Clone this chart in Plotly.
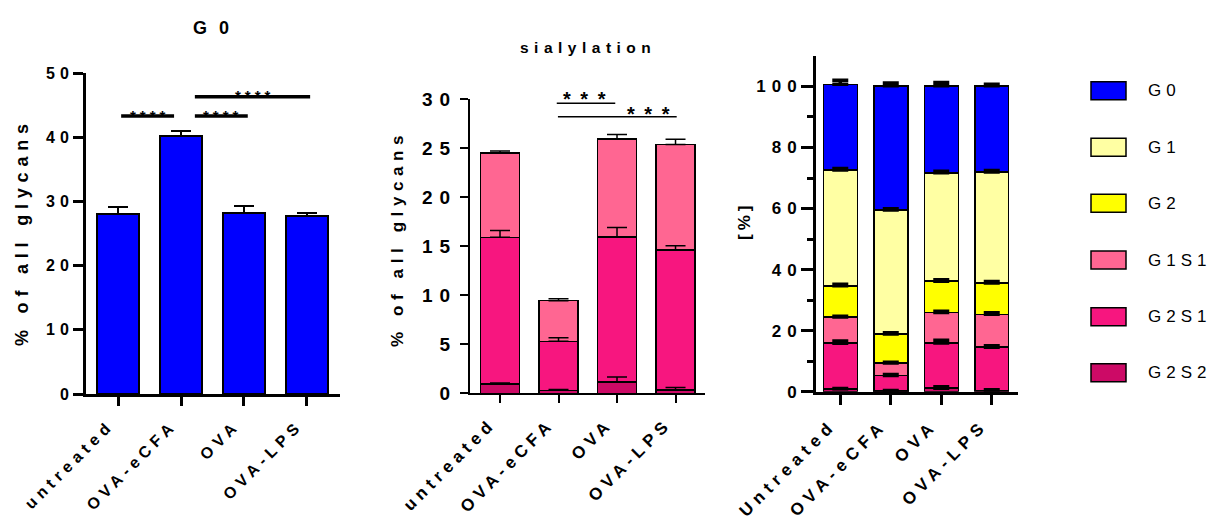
import numpy as np
import plotly.graph_objects as go

# ---- data -------------------------------------------------------------
groups = ["untreated", "OVA-eCFA", "OVA", "OVA-LPS"]
groups_right = ["Untreated", "OVA-eCFA", "OVA", "OVA-LPS"]

# G0 share of all glycans
g0_mean = [28.0, 40.2, 28.2, 27.8]
g0_err = [1.1, 0.8, 1.1, 0.4]

# sialylated species (% of all glycans)
g2s2 = [0.95, 0.3, 1.15, 0.34]
g2s2_err = [0.1, 0.1, 0.5, 0.26]
g2s1 = [14.95, 5.0, 14.8, 14.26]
g2s1_err = [0.7, 0.37, 0.94, 0.45]
g1s1 = [8.6, 4.14, 9.99, 10.75]
g1s1_err = [0.2, 0.2, 0.45, 0.55]

# neutral species for the composition panel (%)
g2 = [10.2, 9.46, 10.26, 10.25]
g2_err = [0.5, 0.4, 0.5, 0.5]
g1 = [37.9, 40.6, 35.5, 36.4]
g1_err = [0.5, 0.4, 0.5, 0.5]
g0_pct = [28.1, 40.7, 28.5, 28.2]
g0_pct_err = [1.3, 0.9, 1.1, 0.5]

series_names = ["G0", "G1", "G2", "G1S1", "G2S1", "G2S2"]
colors = {
    "G0": "#0000FF",
    "G1": "#FFFFA3",
    "G2": "#FFFF00",
    "G1S1": "#FF6692",
    "G2S1": "#F7167F",
    "G2S2": "#CC0A66",
}

left_ticks = [0, 10, 20, 30, 40, 50]
mid_ticks = [0, 5, 10, 15, 20, 25, 30]
right_ticks = [0, 20, 40, 60, 80, 100]

FONT = "Liberation Sans, Arial, sans-serif"
W, H = 1215, 525


def spaced(text, px):
    # letter-spaced text without trailing space after the last glyph
    if len(text) < 2:
        return text
    return f'<span style="letter-spacing:{px}px">{text[:-1]}</span>{text[-1]}'


def slanted(text, px, trail):
    # letter-spaced category label with a small tail of blank space,
    # which pulls the rotated label back from its tick
    return (f'<span style="letter-spacing:{px}px">{text}</span>'
            f'<span style="letter-spacing:{trail}px">\u00a0</span>')


def px_x(v):
    return v / W


def px_y(v):
    return 1 - v / H


fig = go.Figure()

# ---- panel 1: G0 --------------------------------------------------------
fig.add_trace(go.Bar(
    x=groups, y=g0_mean, xaxis="x", yaxis="y", width=0.667,
    marker=dict(color=colors["G0"], line=dict(color="black", width=2)),
    error_y=dict(type="data", symmetric=False, array=g0_err,
                 arrayminus=[0] * len(g0_err), color="black",
                 thickness=2, width=10),
    showlegend=False, hoverinfo="skip",
))

# ---- panel 2: sialylation (stacked) ------------------------------------
mid_stack = [("G2S2", g2s2, g2s2_err), ("G2S1", g2s1, g2s1_err),
             ("G1S1", g1s1, g1s1_err)]
for name, vals, _ in mid_stack:
    fig.add_trace(go.Bar(
        x=groups, y=vals, xaxis="x2", yaxis="y2", width=0.667, name=name,
        marker=dict(color=colors[name], line=dict(color="black", width=1.5)),
        showlegend=False, hoverinfo="skip",
    ))
tops = np.cumsum([v for _, v, _ in mid_stack], axis=0)
for (name, _, err), top in zip(mid_stack, tops):
    fig.add_trace(go.Scatter(
        x=groups, y=top, xaxis="x2", yaxis="y2", mode="markers",
        marker=dict(size=1, opacity=0),
        error_y=dict(type="data", symmetric=False, array=err,
                     arrayminus=[0] * len(err), color="black",
                     thickness=1.5, width=10),
        showlegend=False, hoverinfo="skip",
    ))

# ---- panel 3: composition (stacked %) ----------------------------------
right_stack = [("G2S2", g2s2, g2s2_err), ("G2S1", g2s1, g2s1_err),
               ("G1S1", g1s1, g1s1_err), ("G2", g2, g2_err),
               ("G1", g1, g1_err), ("G0", g0_pct, g0_pct_err)]
for name, vals, _ in right_stack:
    fig.add_trace(go.Bar(
        x=groups_right, y=vals, xaxis="x3", yaxis="y3", width=0.673,
        name=name,
        marker=dict(color=colors[name], line=dict(color="black", width=1.5)),
        showlegend=False, hoverinfo="skip",
    ))
tops_r = np.cumsum([v for _, v, _ in right_stack], axis=0)
for (name, _, err), top in zip(right_stack, tops_r):
    fig.add_trace(go.Scatter(
        x=groups_right, y=top, xaxis="x3", yaxis="y3", mode="markers",
        marker=dict(size=1, opacity=0),
        error_y=dict(type="data", symmetric=False, array=err,
                     arrayminus=[0] * len(err), color="black",
                     thickness=3.5, width=8),
        showlegend=False, hoverinfo="skip",
    ))

# ---- axes ---------------------------------------------------------------
def xaxis_cfg(dom, rng, labels, anchor, lw, tl, size, spacing, standoff):
    return dict(
        domain=dom, anchor=anchor, type="category", range=rng,
        automargin=False,
        showline=True, linecolor="black", linewidth=lw, showgrid=False,
        zeroline=False, ticks="outside", ticklen=tl, tickwidth=lw,
        tickcolor="black", tickangle=-45, ticklabelstandoff=standoff,
        tickvals=labels, ticktext=[slanted(l, spacing, 8) for l in labels],
        tickfont=dict(family=FONT, size=size, color="black", weight="bold"),
    )


def yaxis_cfg(dom, rng, tv, anchor, lw, tl, size, spacing, standoff):
    return dict(
        domain=dom, anchor=anchor, range=rng, showline=True,
        automargin=False,
        linecolor="black", linewidth=lw, showgrid=False, zeroline=False,
        ticks="outside", ticklen=tl, tickwidth=lw, tickcolor="black",
        ticklabelstandoff=standoff,
        tickvals=tv, ticktext=[spaced(str(t), spacing) for t in tv],
        tickfont=dict(family=FONT, size=size, color="black", weight="bold"),
    )


layout = dict(
    template="none",
    width=W, height=H, margin=dict(l=0, r=0, t=0, b=0, pad=0),
    paper_bgcolor="white", plot_bgcolor="white", barmode="stack",
    showlegend=False,
    xaxis=xaxis_cfg([px_x(86), px_x(340)], [-0.508, 3.524], groups, "y",
                    3, 9, 16, 5, -5),
    yaxis=yaxis_cfg([px_y(394), px_y(73)], [0, 50], left_ticks, "x",
                    3, 10, 16, 5, 1),
    xaxis2=xaxis_cfg([px_x(470), px_x(705)], [-0.513, 3.504], groups, "y2",
                     2, 8, 17, 5, -5),
    yaxis2=yaxis_cfg([px_y(393.3), px_y(99)], [0, 30], mid_ticks, "x2",
                     2, 8, 19, 7, 6),
    xaxis3=xaxis_cfg([px_x(816), px_x(1018)], [-0.481, 3.52], groups_right,
                     "y3", 3, 10, 17, 5.5, -5),
    yaxis3=yaxis_cfg([px_y(391.7), px_y(55.9)], [0, 110], right_ticks, "x3",
                     3, 12, 17, 6, 1),
)
layout["yaxis3"]["minor"] = dict(tickvals=[10, 30, 50, 70, 90], ticks="outside",
                                 ticklen=6, tickwidth=3, tickcolor="black")
fig.update_layout(**layout)

# ---- significance brackets ---------------------------------------------
shapes = []
annotations = []
left_sig = [(0.05, 0.89, 43.3), (1.22, 2.06, 43.3), (1.22, 3.05, 46.3)]
for x0, x1, yv in left_sig:
    shapes.append(dict(type="line", xref="x", yref="y", x0=x0, x1=x1,
                       y0=yv, y1=yv, line=dict(color="black", width=3.5)))
    annotations.append(dict(xref="x", yref="y", x=(x0 + x1) / 2, y=yv,
                            xanchor="center", text=spaced("****", 4),
                            showarrow=False, yanchor="middle", yshift=1,
                            font=dict(family=FONT, size=15, color="black",
                                      weight="bold")))
mid_sig = [(0.97, 1.97, 29.56, 1.45, 4), (0.99, 3.02, 28.2, 2.53, 3)]
for x0, x1, yv, xs, ys in mid_sig:
    shapes.append(dict(type="line", xref="x2", yref="y2", x0=x0, x1=x1,
                       y0=yv, y1=yv, line=dict(color="black", width=1.5)))
    annotations.append(dict(xref="x2", yref="y2", x=xs, y=yv,
                            xanchor="center", text=spaced("* * *", 2),
                            showarrow=False, yanchor="middle", yshift=ys,
                            font=dict(family=FONT, size=20, color="black",
                                      weight="bold")))

# ---- titles --------------------------------------------------------------
def paper_text(x, y, text, size, weight="bold", angle=0):
    return dict(xref="paper", yref="paper", x=px_x(x), y=px_y(y),
                xanchor="center", yanchor="middle", text=text,
                showarrow=False, textangle=angle,
                font=dict(family=FONT, size=size, color="black",
                          weight=weight))


annotations += [
    paper_text(211, 28, spaced("G0", 12), 18),
    paper_text(585, 47, spaced("sialylation", 5.5), 15.5),
    paper_text(22, 235, spaced("% of all glycans", 5.8), 18, angle=-90),
    paper_text(397, 241, spaced("% of all glycans", 5.6), 17, angle=-90),
    paper_text(744, 223, spaced("[%]", 4), 17, angle=-90),
]

# ---- legend (drawn swatches) ------------------------------------------
legend_y = [90.7, 147.3, 203.3, 260.0, 316.7, 372.7]
for name, yc in zip(series_names, legend_y):
    shapes.append(dict(type="rect", xref="paper", yref="paper",
                       x0=px_x(1091), x1=px_x(1126), y0=px_y(yc + 9),
                       y1=px_y(yc - 9), fillcolor=colors[name],
                       line=dict(color="black", width=1.5)))
    annotations.append(dict(xref="paper", yref="paper", x=px_x(1146),
                            y=px_y(yc), xanchor="left", yanchor="middle",
                            text=spaced(name, 5), showarrow=False,
                            font=dict(family=FONT, size=17, color="black")))

fig.update_layout(shapes=shapes, annotations=annotations)
fig.write_html("out.html")
